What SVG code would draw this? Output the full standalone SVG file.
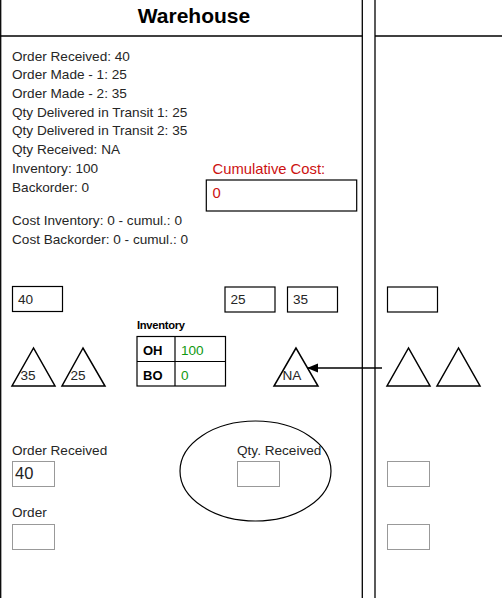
<svg xmlns="http://www.w3.org/2000/svg" width="502" height="598" viewBox="0 0 502 598">
<style>
text{font-family:"Liberation Sans",Arial,sans-serif;}
.t{font-size:13.6px;fill:#262626;}
.red{font-size:14.8px;fill:#cc1111;}
.g{fill:#119911;font-size:13.6px;}
.b{font-weight:bold;fill:#000;}
.ln{stroke:#000;stroke-width:1.3;fill:none;}
.bx{stroke:#000;stroke-width:1.2;fill:#fff;}
.gb{stroke:#999;stroke-width:1;fill:#fff;}
.tri{stroke:#000;stroke-width:1.5;fill:none;stroke-linejoin:miter;}
</style>
<defs>
<marker id="ah" markerWidth="12" markerHeight="10" refX="11" refY="4.5" orient="auto" markerUnits="userSpaceOnUse">
<path d="M0,0 L11,4.5 L0,9 Z" fill="#000"/>
</marker>
</defs>
<rect x="0" y="0" width="502" height="598" fill="#fff"/>
<g id="panels">
<line class="ln" x1="0.7" y1="0" x2="0.7" y2="598"/>
<line class="ln" x1="362.3" y1="0" x2="362.3" y2="598"/>
<line class="ln" x1="375" y1="0" x2="375" y2="598"/>
<line class="ln" x1="0" y1="36" x2="362.3" y2="36"/>
<line class="ln" x1="375" y1="36" x2="502" y2="36"/>
<text x="194" y="23" text-anchor="middle" class="b" style="font-size:21px">Warehouse</text>
</g>
<g id="status">
<text class="t" x="12" y="60.5">Order Received: 40</text>
<text class="t" x="12" y="79.2">Order Made - 1: 25</text>
<text class="t" x="12" y="97.9">Order Made - 2: 35</text>
<text class="t" x="12" y="116.6">Qty Delivered in Transit 1: 25</text>
<text class="t" x="12" y="135.3">Qty Delivered in Transit 2: 35</text>
<text class="t" x="12" y="154">Qty Received: NA</text>
<text class="t" x="12" y="172.7">Inventory: 100</text>
<text class="t" x="12" y="191.5">Backorder: 0</text>
<text class="t" x="12" y="225">Cost Inventory: 0 - cumul.: 0</text>
<text class="t" x="12" y="244">Cost Backorder: 0 - cumul.: 0</text>
</g>
<g id="cumulative-cost">
<text class="red" x="212.5" y="173.5">Cumulative Cost:</text>
<rect class="bx" x="206.3" y="180" width="150.4" height="31"/>
<text class="red" x="212.5" y="197.5">0</text>
</g>
<g id="order-boxes">
<rect class="bx" x="12.5" y="286.5" width="50" height="25"/>
<text class="t" x="18" y="304">40</text>
<rect class="bx" x="225" y="287" width="50" height="25"/>
<text class="t" x="230.5" y="304">25</text>
<rect class="bx" x="287.5" y="287" width="50" height="25"/>
<text class="t" x="293" y="304">35</text>
<rect class="bx" x="387.5" y="287" width="50" height="25"/>
</g>
<g id="inventory">
<text x="137" y="329" class="b" style="font-size:11.2px;letter-spacing:-0.3px">Inventory</text>
<rect class="bx" x="137" y="336.5" width="88.5" height="49.5"/>
<line class="ln" x1="175" y1="336.5" x2="175" y2="386" style="stroke-width:1.2"/>
<line class="ln" x1="137" y1="361.5" x2="225.5" y2="361.5" style="stroke-width:1.2"/>
<text x="143" y="355" class="b" style="font-size:13px">OH</text>
<text x="181" y="355" class="g">100</text>
<text x="143" y="380" class="b" style="font-size:13px">BO</text>
<text x="181" y="380" class="g">0</text>
</g>
<g id="transit-1">
<polygon class="tri" points="33.5,348 12,386 55,386"/>
<text class="t" x="20.5" y="380">35</text>
</g>
<g id="transit-2">
<polygon class="tri" points="83,348 62,386 105,386"/>
<text class="t" x="70.5" y="380">25</text>
</g>
<g id="received">
<polygon class="tri" points="296,348 274,386 318,386"/>
<text class="t" x="282.5" y="380">NA</text>
</g>
<g id="next-1">
<polygon class="tri" points="408.5,348 387,386 430,386"/>
</g>
<g id="next-2">
<polygon class="tri" points="458.5,348 437,386 480,386"/>
</g>
<g id="connectors">
<line x1="382" y1="368" x2="307" y2="368" stroke="#000" stroke-width="1.3" marker-end="url(#ah)"/>
</g>
<g id="order-received">
<text class="t" x="12" y="454.5">Order Received</text>
<rect class="gb" x="12.5" y="461.5" width="42" height="25"/>
<text x="15" y="478.5" style="font-size:16.5px;fill:#222">40</text>
</g>
<g id="qty-received">
<ellipse cx="255.5" cy="471" rx="75.5" ry="50" class="ln" style="stroke-width:1.2"/>
<text class="t" x="237" y="454.5">Qty. Received</text>
<rect class="gb" x="237.5" y="461.5" width="42" height="25"/>
</g>
<g id="order">
<text class="t" x="12" y="517">Order</text>
<rect class="gb" x="12.5" y="524.5" width="42" height="25"/>
</g>
<g id="next-boxes">
<rect class="gb" x="387.5" y="461.5" width="42" height="25"/>
<rect class="gb" x="387.5" y="524.5" width="42" height="25"/>
</g>
</svg>
